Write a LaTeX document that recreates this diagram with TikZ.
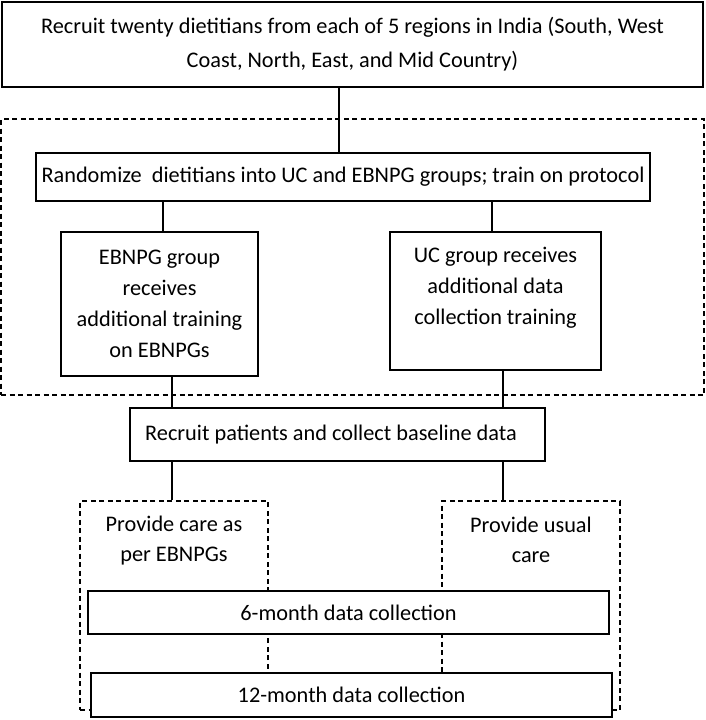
\documentclass[tikz,border=0pt]{standalone}
\usepackage{fontspec}
\setmainfont{Carlito}
\begin{document}
\begin{tikzpicture}[x=1pt,y=-1pt,
  box/.style={draw=black, line width=1.3pt, fill=white, inner sep=0pt, align=center,
    font=\fontsize{22.3}{31}\selectfont},
  dbox/.style={draw=black, line width=1.1pt, dash pattern=on 5pt off 3.5pt, inner sep=0pt},
  txt/.style={inner sep=0pt, align=center, font=\fontsize{22.3}{30}\selectfont},
  link/.style={draw=black, line width=1.2pt}]
\useasboundingbox (0,0) rectangle (706,720);
\fill[white] (0,0) rectangle (706,720);

% outer dashed group
\node[dbox, minimum width=703pt, minimum height=276pt] (grp) at (352.5,257) {};

% top box
\node[box, minimum width=701pt, minimum height=85pt, font=\fontsize{22.3}{34}\selectfont] (top) at (352.5,44.5)
  {Recruit twenty dietitians from each of 5 regions in India (South, West\\Coast, North, East, and Mid Country)};

% randomize
\node[box, minimum width=614pt, minimum height=48pt] (rand) at (343,177)
  {Randomize~ dietitians into UC and EBNPG groups; train on protocol};

% training boxes
\node[box, minimum width=197pt, minimum height=144pt] (lbox) at (159.5,304)
  {EBNPG group\\receives\\additional training\\on EBNPGs};
\node[box, minimum width=211pt, minimum height=138pt] (rbox) at (495.5,301)
  {UC group receives\\additional data\\collection training\\\mbox{}};

% recruit patients
\node[box, minimum width=415pt, minimum height=53pt] (pat) at (337.5,434.5)
  {Recruit patients and collect baseline data\hspace{13pt}};

% care dashed boxes
\node[dbox, minimum width=188pt, minimum height=209pt] (lcare) at (174,605.5) {};
\node[dbox, minimum width=178pt, minimum height=209pt] (rcare) at (531,605.5) {};
\node[txt] (ltxt) at ([yshift=-40pt]lcare.north) {Provide care as\\per EBNPGs};
\node[txt] (rtxt) at ([yshift=-39pt]rcare.north) {Provide usual\\care};

% data collection boxes
\node[box, minimum width=521pt, minimum height=43pt] (m6) at (348.5,612.5) {6-month data collection};
\node[box, minimum width=521pt, minimum height=44pt] (m12) at (351.5,695) {12-month data collection};

% connector x positions
\coordinate (xa) at (339,0);
\coordinate (xb) at (163,0);
\coordinate (xc) at (492,0);
\coordinate (xd) at (172,0);
\coordinate (xe) at (503,0);

\draw[link] (top.south -| xa) -- (rand.north -| xa);
\draw[link] (rand.south -| xb) -- (lbox.north -| xb);
\draw[link] (rand.south -| xc) -- (rbox.north -| xc);
\draw[link] (lbox.south -| xd) -- (pat.north -| xd);
\draw[link] (rbox.south -| xe) -- (pat.north -| xe);
\draw[link] (pat.south -| xd) -- (lcare.north -| xd);
\draw[link] (pat.south -| xe) -- (rcare.north -| xe);
\end{tikzpicture}
\end{document}
